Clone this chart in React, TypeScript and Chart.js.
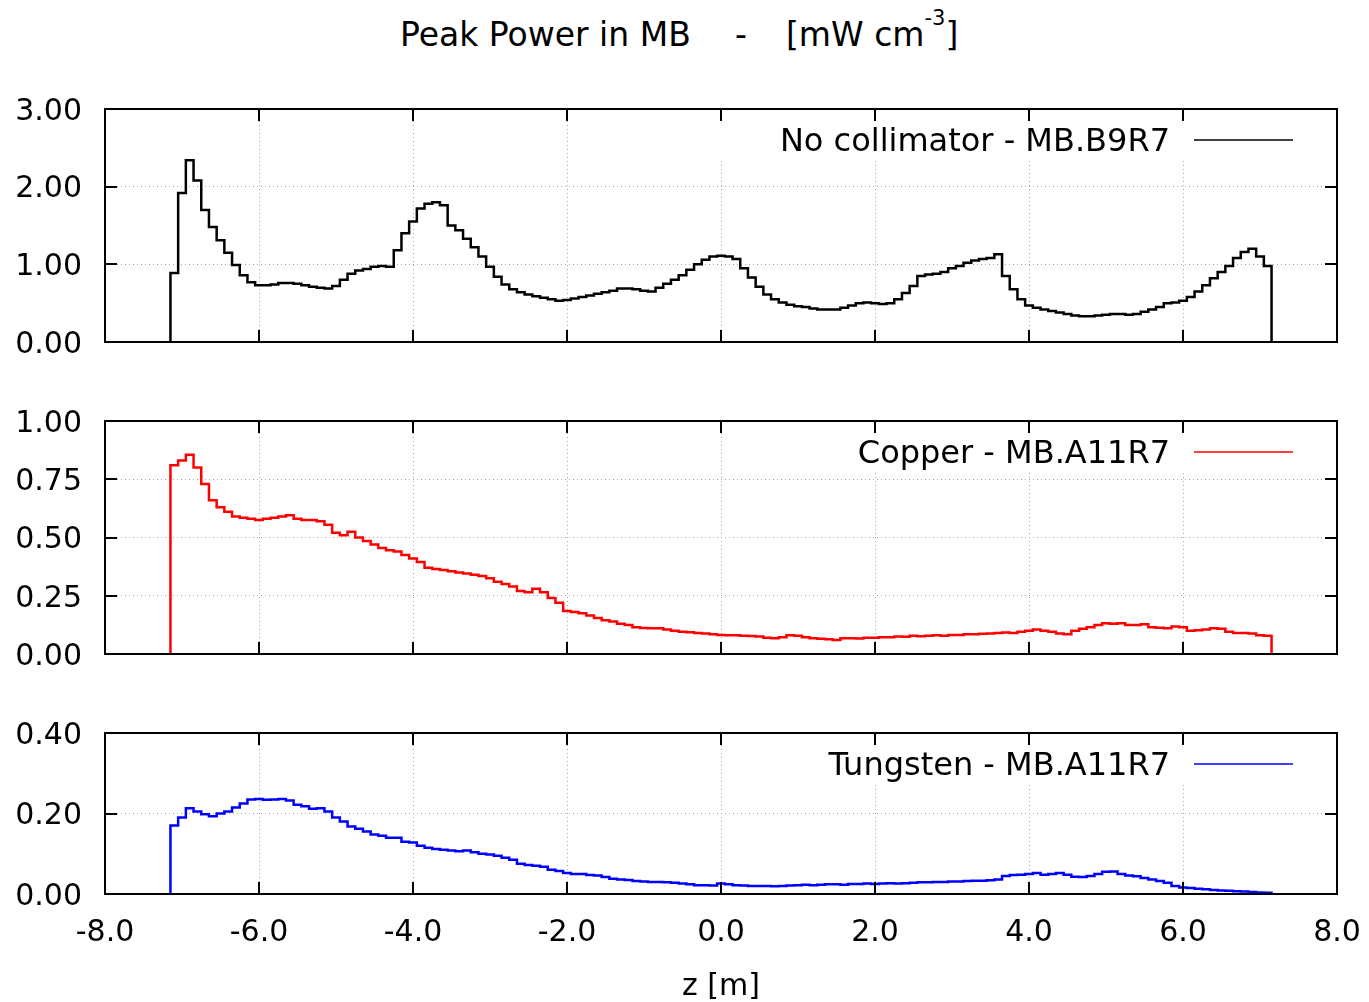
import React, { useEffect, useRef } from 'react';
import { Chart, registerables } from 'chart.js';

Chart.register(...registerables);

// ---- data ----
const Z_START = -7.15; // first bin edge [m]
const BIN_WIDTH = 0.1; // bin width [m]

const NO_COLLIMATOR = [
  0.89, 1.92, 2.34, 2.08, 1.70, 1.48, 1.31, 1.15, 0.99, 0.86,
  0.77, 0.73, 0.73, 0.74, 0.76, 0.76, 0.75, 0.73, 0.71, 0.70,
  0.69, 0.72, 0.80, 0.88, 0.92, 0.94, 0.97, 0.98, 0.97, 1.18,
  1.40, 1.55, 1.72, 1.78, 1.80, 1.76, 1.50, 1.44, 1.33, 1.22,
  1.10, 0.97, 0.84, 0.74, 0.68, 0.64, 0.61, 0.59, 0.57, 0.55,
  0.53, 0.54, 0.56, 0.58, 0.60, 0.62, 0.64, 0.66, 0.69, 0.69,
  0.68, 0.66, 0.65, 0.70, 0.75, 0.80, 0.86, 0.93, 1.00, 1.06,
  1.10, 1.11, 1.10, 1.07, 0.95, 0.83, 0.71, 0.61, 0.55, 0.51,
  0.48, 0.46, 0.45, 0.43, 0.42, 0.42, 0.42, 0.44, 0.47, 0.50,
  0.51, 0.50, 0.49, 0.50, 0.55, 0.63, 0.72, 0.85, 0.87, 0.88,
  0.90, 0.95, 0.98, 1.02, 1.05, 1.07, 1.08, 1.13, 0.85, 0.68,
  0.55, 0.47, 0.44, 0.42, 0.40, 0.38, 0.36, 0.34, 0.33, 0.33,
  0.34, 0.35, 0.36, 0.36, 0.35, 0.36, 0.39, 0.42, 0.45, 0.50,
  0.51, 0.53, 0.58, 0.65, 0.73, 0.82, 0.90, 0.98, 1.08, 1.16,
  1.20, 1.10, 0.98,
];

const COPPER = [
  0.81, 0.83, 0.855, 0.80, 0.73, 0.66, 0.63, 0.61, 0.59, 0.585,
  0.58, 0.575, 0.58, 0.585, 0.59, 0.595, 0.58, 0.575, 0.575, 0.57,
  0.555, 0.52, 0.51, 0.525, 0.50, 0.485, 0.47, 0.455, 0.445, 0.44,
  0.425, 0.41, 0.395, 0.37, 0.365, 0.36, 0.355, 0.35, 0.345, 0.34,
  0.335, 0.325, 0.31, 0.30, 0.29, 0.27, 0.265, 0.28, 0.265, 0.24,
  0.22, 0.185, 0.18, 0.175, 0.165, 0.155, 0.145, 0.14, 0.13, 0.125,
  0.115, 0.112, 0.11, 0.11, 0.105, 0.10, 0.095, 0.093, 0.09, 0.088,
  0.085, 0.082, 0.08, 0.08, 0.078, 0.077, 0.075, 0.07, 0.068, 0.072,
  0.08, 0.078, 0.072, 0.068, 0.065, 0.063, 0.06, 0.068, 0.068, 0.066,
  0.07, 0.07, 0.072, 0.072, 0.075, 0.074, 0.078, 0.076, 0.078, 0.08,
  0.078, 0.082, 0.082, 0.085, 0.085, 0.087, 0.088, 0.09, 0.092, 0.09,
  0.095, 0.10, 0.105, 0.10, 0.095, 0.088, 0.085, 0.10, 0.108, 0.115,
  0.125, 0.132, 0.13, 0.132, 0.125, 0.125, 0.128, 0.115, 0.113, 0.11,
  0.118, 0.115, 0.10, 0.102, 0.105, 0.11, 0.108, 0.095, 0.09, 0.09,
  0.088, 0.08, 0.078,
];

const TUNGSTEN = [
  0.17, 0.19, 0.213, 0.205, 0.198, 0.193, 0.20, 0.205, 0.215, 0.225,
  0.235, 0.236, 0.234, 0.235, 0.236, 0.232, 0.222, 0.218, 0.212, 0.213,
  0.205, 0.19, 0.18, 0.168, 0.162, 0.155, 0.148, 0.145, 0.14, 0.14,
  0.13, 0.128, 0.12, 0.115, 0.112, 0.11, 0.108, 0.106, 0.108, 0.104,
  0.10, 0.098, 0.095, 0.09, 0.085, 0.075, 0.072, 0.07, 0.068, 0.06,
  0.057, 0.052, 0.05, 0.05, 0.047, 0.046, 0.042, 0.038, 0.036, 0.035,
  0.032, 0.031, 0.03, 0.03, 0.029, 0.028, 0.026, 0.024, 0.022, 0.022,
  0.021, 0.026, 0.024, 0.022, 0.021, 0.02, 0.02, 0.02, 0.019, 0.02,
  0.021, 0.022, 0.023, 0.022, 0.023, 0.024, 0.024, 0.023, 0.025, 0.025,
  0.026, 0.025, 0.026, 0.027, 0.026, 0.027, 0.028, 0.029, 0.029, 0.03,
  0.03, 0.031, 0.031, 0.032, 0.033, 0.033, 0.034, 0.036, 0.045, 0.047,
  0.048, 0.05, 0.052, 0.048, 0.05, 0.052, 0.048, 0.043, 0.042, 0.045,
  0.05, 0.055, 0.056, 0.05, 0.046, 0.044, 0.04, 0.036, 0.032, 0.028,
  0.02, 0.016, 0.015, 0.013, 0.012, 0.01, 0.009, 0.008, 0.007, 0.006,
  0.005, 0.004, 0.003,
];

const X_MIN = -8;
const X_MAX = 8;
const X_STEP = 2;
const PANEL_LABELS = ['No collimator - MB.B9R7', 'Copper - MB.A11R7', 'Tungsten - MB.A11R7'];
const Y_MAXES = [3, 1, 0.4];
const Y_STEPS = [1, 0.25, 0.2];
const X_TITLE = 'z [m]';

const FONT = '"DejaVu Sans", "Liberation Sans", Arial, sans-serif';

function histogramPoints(values: number[]) {
  const pts: { x: number; y: number }[] = [];
  const edge = (i: number) => Z_START + i * BIN_WIDTH;
  pts.push({ x: edge(0), y: 0 });
  values.forEach((v, i) => {
    pts.push({ x: edge(i), y: v });
    pts.push({ x: edge(i + 1), y: v });
  });
  pts.push({ x: edge(values.length), y: 0 });
  return pts;
}

const framePlugin = {
  id: 'gpFrame',
  beforeDatasetsDraw(chart: any, _args: any, opts: any) {
    const { ctx, chartArea: a } = chart;
    ctx.save();
    ctx.font = `32px ${FONT}`;
    const w = ctx.measureText(opts.text).width;
    const textRight = a.right - 167;
    const boxLeft = textRight - w - 60;
    ctx.fillStyle = '#fff';
    ctx.fillRect(boxLeft, a.top + 1, a.right - 1 - boxLeft, 50);
    ctx.restore();
  },
  afterDraw(chart: any, _args: any, opts: any) {
    const { ctx, chartArea: a } = chart;
    const xs = chart.scales.x;
    const ys = chart.scales.y;
    ctx.save();
    ctx.strokeStyle = '#000';
    ctx.lineWidth = 2;
    ctx.strokeRect(a.left, a.top, a.right - a.left, a.bottom - a.top);
    const TL = 12;
    ctx.lineWidth = 2;
    ctx.beginPath();
    xs.ticks.forEach((t: any) => {
      if (t.value <= xs.min || t.value >= xs.max) return;
      const px = Math.round(xs.getPixelForValue(t.value));
      ctx.moveTo(px, a.bottom);
      ctx.lineTo(px, a.bottom - TL);
      ctx.moveTo(px, a.top);
      ctx.lineTo(px, a.top + TL);
    });
    ys.ticks.forEach((t: any) => {
      if (t.value <= ys.min + 1e-9 || t.value >= ys.max - 1e-9) return;
      const py = Math.round(ys.getPixelForValue(t.value));
      ctx.moveTo(a.left, py);
      ctx.lineTo(a.left + TL, py);
      ctx.moveTo(a.right, py);
      ctx.lineTo(a.right - TL, py);
    });
    ctx.stroke();

    // legend (gnuplot style: text then line sample)
    ctx.font = `32px ${FONT}`;
    ctx.fillStyle = '#000';
    ctx.textAlign = 'right';
    ctx.textBaseline = 'alphabetic';
    ctx.fillText(opts.text, a.right - 167, a.top + 42);
    ctx.strokeStyle = opts.color;
    ctx.globalAlpha = 0.75;
    ctx.lineWidth = 2;
    ctx.beginPath();
    ctx.moveTo(a.right - 143, a.top + 31);
    ctx.lineTo(a.right - 44, a.top + 31);
    ctx.stroke();
    ctx.restore();
  },
};

type PanelProps = {
  values: number[];
  color: string;
  yMax: number;
  yStep: number;
  label: string;
  showX: boolean;
  top: number;
  height: number;
  padTop: number;
  padBottom: number;
  xHeight: number;
};

function Panel(p: PanelProps) {
  const ref = useRef<HTMLCanvasElement | null>(null);
  useEffect(() => {
    if (!ref.current) return;
    const chart = new Chart(ref.current, {
      type: 'line',
      data: {
        datasets: [
          {
            label: p.label,
            data: histogramPoints(p.values),
            borderColor: p.color,
            borderWidth: 2.5,
            pointRadius: 0,
            tension: 0,
            fill: false,
          },
        ],
      },
      options: {
        animation: false,
        responsive: false,
        events: [],
        layout: { padding: { top: p.padTop, bottom: p.padBottom, left: 0, right: 32 } },
        plugins: {
          legend: { display: false },
          tooltip: { enabled: false },
          gpFrame: { text: p.label, color: p.color },
        } as any,
        scales: {
          x: {
            type: 'linear',
            min: X_MIN,
            max: X_MAX,
            afterFit: (s: any) => {
              s.height = p.xHeight;
              s.paddingLeft = 0;
              s.paddingRight = 0;
            },
            ticks: {
              display: p.showX,
              stepSize: X_STEP,
              color: '#000',
              font: { family: FONT, size: 30 },
              padding: 21,
              maxRotation: 0,
              callback: (v: any) => Number(v).toFixed(1),
            },
            grid: { color: '#a8a8a8', lineWidth: 1, drawTicks: false },
            border: { display: false, dash: [1, 3] },
            title: {
              display: p.showX,
              text: X_TITLE,
              color: '#000',
              font: { family: FONT, size: 30 },
              padding: { top: 0, bottom: -3 },
            },
          },
          y: {
            type: 'linear',
            min: 0,
            max: p.yMax,
            afterFit: (s: any) => {
              s.width = 105;
              s.paddingTop = 0;
              s.paddingBottom = 0;
            },
            ticks: {
              stepSize: p.yStep,
              color: '#000',
              font: { family: FONT, size: 30 },
              padding: 23,
              labelOffset: 3,
              callback: (v: any) => Number(v).toFixed(2),
            },
            grid: { color: '#a8a8a8', lineWidth: 1, drawTicks: false },
            border: { display: false, dash: [1, 3] },
          },
        },
      } as any,
      plugins: [framePlugin],
    });
    return () => chart.destroy();
  }, []);
  return (
    <canvas
      ref={ref}
      width={1369}
      height={p.height}
      style={{ position: 'absolute', left: 0, top: p.top, width: 1369, height: p.height }}
    />
  );
}

export default function App() {
  return (
    <div style={{ position: 'absolute', left: 0, top: 0, width: 1369, height: 1002, background: '#fff', overflow: 'hidden' }}>
      <div
        style={{
          position: 'absolute',
          left: 400,
          top: 18,
          fontFamily: FONT,
          fontSize: 33,
          lineHeight: '33px',
          whiteSpace: 'pre',
          color: '#000',
        }}
      >
        Peak Power in MB
      </div>
      <div style={{ position: 'absolute', left: 735, top: 18, fontFamily: FONT, fontSize: 33, lineHeight: '33px', color: '#000' }}>-</div>
      <div style={{ position: 'absolute', left: 786, top: 18, fontFamily: FONT, fontSize: 33, lineHeight: '33px', whiteSpace: 'pre', color: '#000' }}>
        [mW cm<sup style={{ fontSize: 21, lineHeight: 0, verticalAlign: 'top', position: 'relative', top: 0 }}>-3</sup>]
      </div>
      <Panel values={NO_COLLIMATOR} color="#000000" yMax={Y_MAXES[0]} yStep={Y_STEPS[0]} label={PANEL_LABELS[0]} showX={false} top={80} height={280} padTop={29} padBottom={18} xHeight={0} />
      <Panel values={COPPER} color="#ff0000" yMax={Y_MAXES[1]} yStep={Y_STEPS[1]} label={PANEL_LABELS[1]} showX={false} top={392} height={280} padTop={29} padBottom={18} xHeight={0} />
      <Panel values={TUNGSTEN} color="#0000ff" yMax={Y_MAXES[2]} yStep={Y_STEPS[2]} label={PANEL_LABELS[2]} showX={true} top={705} height={297} padTop={28} padBottom={0} xHeight={108} />
    </div>
  );
}
